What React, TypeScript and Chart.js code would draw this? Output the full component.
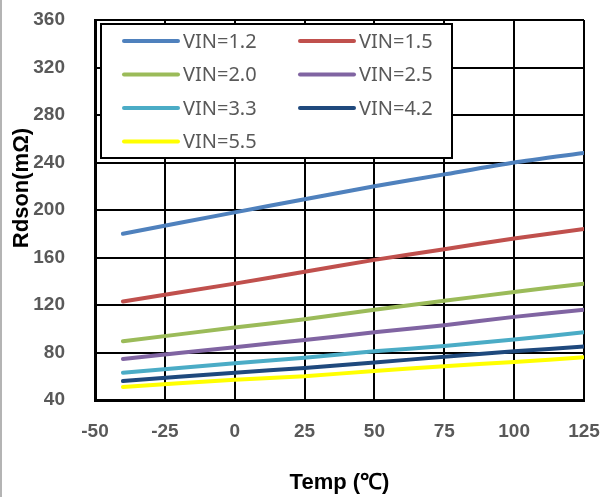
import React, { useEffect, useRef } from "react";
import { Chart, registerables } from "chart.js";

Chart.register(...registerables);

const temps = [-40, 0, 25, 50, 75, 100, 125];
const seriesLabels = ["VIN=1.2", "VIN=1.5", "VIN=2.0", "VIN=2.5", "VIN=3.3", "VIN=4.2", "VIN=5.5"];
const seriesColors = ["#4F81BD", "#C0504D", "#9BBB59", "#8064A2", "#4BACC6", "#1F497D", "#FFFF00"];
const vin12 = [180, 198, 209, 220, 230, 240, 248];
const vin15 = [123, 138, 148, 158, 167, 176, 184];
const vin20 = [89.5, 101, 108, 116, 123.5, 131, 138];
const vin25 = [74.5, 84.5, 90.5, 97, 103, 110, 116];
const vin33 = [63, 71, 75.5, 81, 85.5, 91, 97];
const vin42 = [56, 63, 67, 71.5, 76.5, 81, 85];
const vin55 = [51, 57, 60, 64.5, 68.5, 72, 76];
const seriesValues = [vin12, vin15, vin20, vin25, vin33, vin42, vin55];

const xTitle = "Temp (℃)";
const yTitle = "Rdson(mΩ)";

const decorPlugin = {
  id: "decor",
  beforeDraw(chart: any) {
    const ctx = chart.ctx;
    ctx.save();
    ctx.fillStyle = "#ffffff";
    ctx.fillRect(0, 0, chart.width, chart.height);
    ctx.fillStyle = "#b4b4b4";
    ctx.fillRect(0, 0, 2, chart.height);
    ctx.restore();
  },
  afterDraw(chart: any) {
    const ctx = chart.ctx;
    ctx.save();
    ctx.translate(22, 188);
    ctx.rotate(-Math.PI / 2);
    ctx.font = "bold 22px 'Liberation Sans', Arial, sans-serif";
    ctx.fillStyle = "#000000";
    ctx.textAlign = "center";
    ctx.textBaseline = "middle";
    ctx.fillText(yTitle, 0, 0);
    ctx.restore();

    ctx.save();
    const bx = 101, by = 24, bw = 351, bh = 134;
    ctx.fillStyle = "#ffffff";
    ctx.fillRect(bx, by, bw, bh);
    ctx.strokeStyle = "#000000";
    ctx.lineWidth = 2;
    ctx.strokeRect(bx, by, bw, bh);
    const colX = [124, 300];
    chart.data.datasets.forEach((ds: any, i: number) => {
      const col = i % 2;
      const row = Math.floor(i / 2);
      const y = 41 + row * 33.5;
      const x0 = colX[col];
      ctx.strokeStyle = ds.borderColor;
      ctx.lineWidth = 4;
      ctx.lineCap = "round";
      ctx.beginPath();
      ctx.moveTo(x0, y);
      ctx.lineTo(x0 + 54, y);
      ctx.stroke();
      ctx.fillStyle = "#595959";
      ctx.font = "20px 'Noto Sans', sans-serif";
      ctx.textAlign = "left";
      ctx.textBaseline = "middle";
      ctx.fillText(ds.label, x0 + 59, y + 1);
    });
    ctx.restore();
  },
};

export default function App() {
  const ref = useRef<HTMLCanvasElement>(null);
  useEffect(() => {
    if (!ref.current) return;
    const tickFont = { family: "'Liberation Sans', Arial, sans-serif", size: 19, weight: "bold" as const };
    const chart = new Chart(ref.current, {
      type: "line",
      data: {
        datasets: seriesValues.map((vals, i) => ({
          label: seriesLabels[i],
          data: vals.map((v, j) => ({ x: temps[j], y: v })),
          borderColor: seriesColors[i],
          backgroundColor: seriesColors[i],
          borderWidth: 4,
          borderCapStyle: "round" as const,
          pointRadius: 0,
          tension: 0.2,
          fill: false,
        })),
      },
      options: {
        animation: false,
        responsive: false,
        devicePixelRatio: 1,
        layout: { padding: { left: 0, right: 21, top: 20, bottom: 0 } },
        plugins: { legend: { display: false }, tooltip: { enabled: false } },
        scales: {
          x: {
            type: "linear",
            min: -50,
            max: 125,
            ticks: { stepSize: 25, color: "#595959", font: tickFont, padding: 20 },
            grid: { color: "#000000", lineWidth: 2, drawTicks: false },
            border: { color: "#000000", width: 3 },
            title: {
              display: true,
              text: xTitle,
              color: "#000000",
              font: { family: "'Liberation Sans', Arial, sans-serif", size: 22, weight: "bold" },
              padding: { top: 0, bottom: 1 },
            },
            afterFit: (s: any) => {
              s.height = 97;
              s.paddingLeft = 0;
              s.paddingRight = 0;
            },
          },
          y: {
            min: 40,
            max: 360,
            ticks: { stepSize: 40, color: "#595959", font: tickFont, padding: 30 },
            grid: { color: "#000000", lineWidth: 2, drawTicks: false },
            border: { color: "#000000", width: 3 },
            afterFit: (s: any) => {
              s.width = 95;
              s.paddingTop = 0;
              s.paddingBottom = 0;
            },
          },
        },
      },
      plugins: [decorPlugin],
    });
    return () => chart.destroy();
  }, []);
  return (
    <div style={{ position: "absolute", left: 0, top: 0, width: 605, height: 497 }}>
      <canvas ref={ref} width={605} height={497} />
    </div>
  );
}
